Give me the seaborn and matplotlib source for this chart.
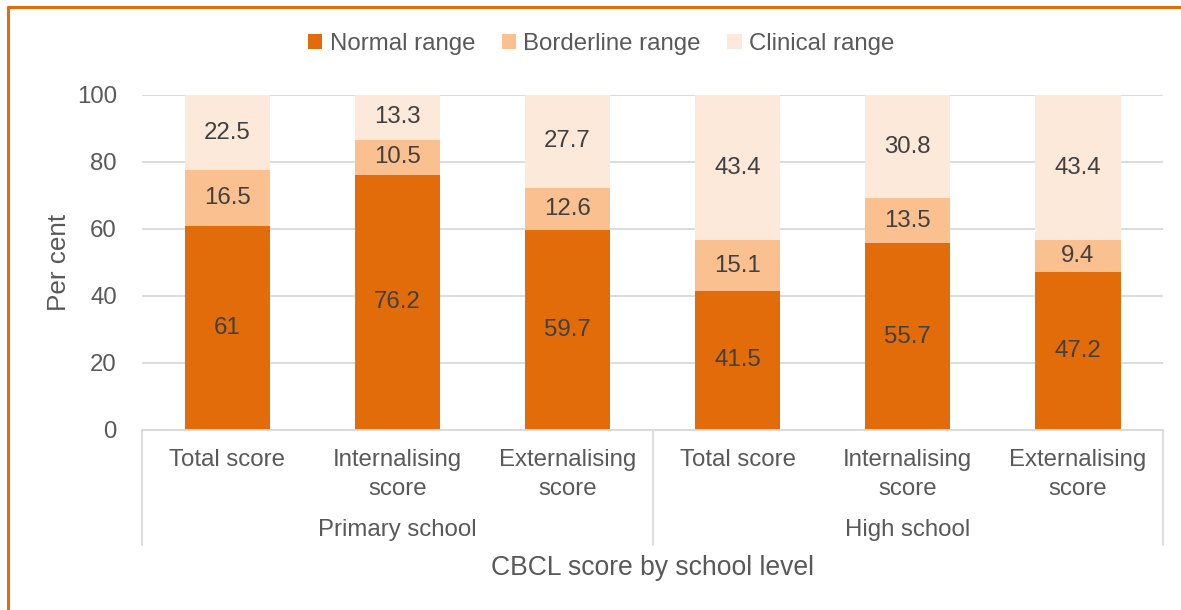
import pandas as pd
import matplotlib.pyplot as plt
import seaborn as sns
from matplotlib.lines import Line2D
from matplotlib.patches import Patch
import matplotlib.transforms as mtransforms

# Data
groups = ["Primary school", "High school"]
scores = ["Total score", "Internalising\nscore", "Externalising\nscore"]
normal = [61, 76.2, 59.7, 41.5, 55.7, 47.2]
borderline = [16.5, 10.5, 12.6, 15.1, 13.5, 9.4]
clinical = [22.5, 13.3, 27.7, 43.4, 30.8, 43.4]
series_names = ["Normal range", "Borderline range", "Clinical range"]
colors = ["#E36C0A", "#FAC090", "#FDE9D9"]

keys = [f"{g}|{s}" for g in groups for s in scores]
tick_labels = [s for g in groups for s in scores]

df = pd.DataFrame({"key": keys, "Normal range": normal,
                   "Borderline range": borderline, "Clinical range": clinical})

sns.set_theme(style="white")
plt.rcParams["font.family"] = ["Liberation Sans", "DejaVu Sans"]
text_col = "#595959"
fs = 17.3

fig = plt.figure(figsize=(11.81, 6.10), dpi=100)
ax = fig.add_axes([0.1202, 0.2951, 0.8646, 0.5492])

bottom = [0.0] * len(keys)
for name, col in zip(series_names, colors):
    vals = df[name].tolist()
    sns.barplot(data=df, x="key", y=name, order=keys, color=col, width=0.5,
                bottom=bottom, ax=ax, saturation=1, linewidth=0)
    for i, v in enumerate(vals):
        ax.text(i, bottom[i] + v / 2, f"{v:g}", ha="center", va="center",
                fontsize=fs, color="#404040")
    bottom = [b + v for b, v in zip(bottom, vals)]

ax.set_ylim(0, 100)
ax.set_xlim(-0.5, len(keys) - 0.5)
ax.set_yticks(range(0, 101, 20))
ax.yaxis.grid(True, color="#D9D9D9", linewidth=1.3)
ax.set_axisbelow(True)
for sp in ["top", "right", "left"]:
    ax.spines[sp].set_visible(False)
ax.spines["bottom"].set_color("#D9D9D9")
ax.spines["bottom"].set_linewidth(1.3)

ax.set_xticks(range(len(keys)))
ax.set_xticklabels(tick_labels, fontsize=fs, color=text_col, linespacing=1.4)
ax.tick_params(axis="x", length=0, pad=14)
ax.tick_params(axis="y", length=0, pad=18, labelsize=fs, labelcolor=text_col)
ax.set_ylabel("Per cent", fontsize=fs + 1.5, color=text_col, labelpad=4)
ax.set_xlabel("")

# group separators and group labels
trans = mtransforms.blended_transform_factory(ax.transData, ax.transAxes)
for xpos in [-0.5, 2.5, 5.5]:
    ax.add_line(Line2D([xpos, xpos], [0, -0.343], transform=trans,
                       color="#D9D9D9", linewidth=1.3, clip_on=False))
for gi, g in enumerate(groups):
    ax.text(gi * 3 + 1, -0.2985, g, transform=trans, ha="center", va="center",
            fontsize=fs, color=text_col)
ax.text(0.5, -0.412, "CBCL score by school level", transform=ax.transAxes,
        ha="center", va="center", fontsize=fs + 1.8, color=text_col)

handles = [Patch(facecolor=c, edgecolor="none") for c in colors]
leg = fig.legend(handles, series_names, loc="center", bbox_to_anchor=(0.509, 0.928),
                 ncol=3, frameon=False, fontsize=fs, handlelength=0.6,
                 handleheight=0.6, handletextpad=0.3, columnspacing=1.1)
for t in leg.get_texts():
    t.set_color(text_col)

# orange frame on top and left
fig.add_artist(Line2D([0.0068, 1.0], [0.9885, 0.9885], transform=fig.transFigure,
                      color="#E36C0A", linewidth=2.2))
fig.add_artist(Line2D([0.0068, 0.0068], [0.0, 0.9885], transform=fig.transFigure,
                      color="#E36C0A", linewidth=2.2))

fig.savefig("out.png", dpi=100)
